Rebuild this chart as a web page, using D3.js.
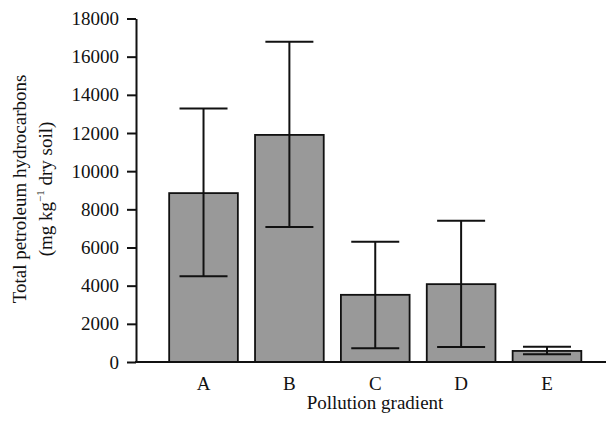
<!DOCTYPE html>
<html>
<head>
<meta charset="utf-8">
<script src="https://cdn.jsdelivr.net/npm/d3@7"></script>
<style>
  body { margin: 0; background: #fff; }
  svg { display: block; font-family: "Liberation Serif", "DejaVu Serif", serif; }
</style>
</head>
<body>
<script>
// Total petroleum hydrocarbons along the pollution gradient
const sites = ["A", "B", "C", "D", "E"];
const means = [8850, 11900, 3520, 4080, 580];
const errLow = [4500, 7070, 720, 790, 400];
const errHigh = [13280, 16780, 6300, 7400, 800];
const yTicks = [0, 2000, 4000, 6000, 8000, 10000, 12000, 14000, 16000, 18000];

const width = 607, height = 422;
const x0 = 136, yBase = 362, yTop = 18.5;

const svg = d3.select("body").append("svg")
    .attr("width", width)
    .attr("height", height);

const x = d3.scaleBand(sites, [152, 598.5])
    .paddingInner(0.2)
    .paddingOuter(0.2);

const y = d3.scaleLinear([0, 18000], [yBase, yTop]);

const data = sites.map((s, i) => ({site: s, mean: means[i], lo: errLow[i], hi: errHigh[i]}));

// bars
svg.append("g")
  .selectAll("rect")
  .data(data)
  .join("rect")
    .attr("x", d => x(d.site))
    .attr("y", d => y(d.mean))
    .attr("width", x.bandwidth())
    .attr("height", d => y(0) - y(d.mean))
    .attr("fill", "#999999")
    .attr("stroke", "#111")
    .attr("stroke-width", 1.8);

// error bars
const cap = 24;
const err = svg.append("g")
    .attr("stroke", "#111")
    .attr("stroke-width", 2);

err.selectAll(".stem")
  .data(data)
  .join("line")
    .attr("class", "stem")
    .attr("x1", d => x(d.site) + x.bandwidth() / 2)
    .attr("x2", d => x(d.site) + x.bandwidth() / 2)
    .attr("y1", d => y(d.lo))
    .attr("y2", d => y(d.hi));

err.selectAll(".capHi")
  .data(data)
  .join("line")
    .attr("class", "capHi")
    .attr("x1", d => x(d.site) + x.bandwidth() / 2 - cap)
    .attr("x2", d => x(d.site) + x.bandwidth() / 2 + cap)
    .attr("y1", d => y(d.hi))
    .attr("y2", d => y(d.hi));

err.selectAll(".capLo")
  .data(data)
  .join("line")
    .attr("class", "capLo")
    .attr("x1", d => x(d.site) + x.bandwidth() / 2 - cap)
    .attr("x2", d => x(d.site) + x.bandwidth() / 2 + cap)
    .attr("y1", d => y(d.lo))
    .attr("y2", d => y(d.lo));

// y axis
const yAxis = svg.append("g")
    .attr("transform", `translate(${x0},0)`)
    .call(d3.axisLeft(y).tickValues(yTicks).tickFormat(d3.format("d")).tickSize(9).tickSizeOuter(0).tickPadding(8));
yAxis.select(".domain").attr("stroke", "#111").attr("stroke-width", 2);
yAxis.selectAll(".tick line").attr("stroke", "#111").attr("stroke-width", 2);
yAxis.selectAll(".tick text")
    .attr("font-family", "Liberation Serif")
    .attr("font-size", 19)
    .attr("fill", "#111");

// x axis baseline
svg.append("line")
    .attr("x1", x0 - 1)
    .attr("x2", 606)
    .attr("y1", yBase)
    .attr("y2", yBase)
    .attr("stroke", "#111")
    .attr("stroke-width", 2);

// x category labels
svg.append("g")
  .selectAll("text")
  .data(sites)
  .join("text")
    .attr("x", d => x(d) + x.bandwidth() / 2)
    .attr("y", 390)
    .attr("text-anchor", "middle")
    .attr("font-size", 19)
    .attr("fill", "#111")
    .text(d => d);

svg.append("text")
    .attr("x", 375)
    .attr("y", 409)
    .attr("text-anchor", "middle")
    .attr("font-size", 19)
    .attr("fill", "#111")
    .text("Pollution gradient");

// y axis title, two lines
const title = svg.append("text")
    .attr("transform", "translate(26,189) rotate(-90)")
    .attr("text-anchor", "middle")
    .attr("font-size", 19)
    .attr("fill", "#111");
title.append("tspan")
    .attr("x", 0)
    .attr("dy", 0)
    .text("Total petroleum hydrocarbons");
title.append("tspan")
    .attr("x", 0)
    .attr("dy", 25.5)
    .text("(mg kg");
title.append("tspan")
    .attr("font-size", 11)
    .attr("dy", -8)
    .text("−1");
title.append("tspan")
    .attr("dy", 8)
    .text(" dry soil)");
</script>
</body>
</html>
